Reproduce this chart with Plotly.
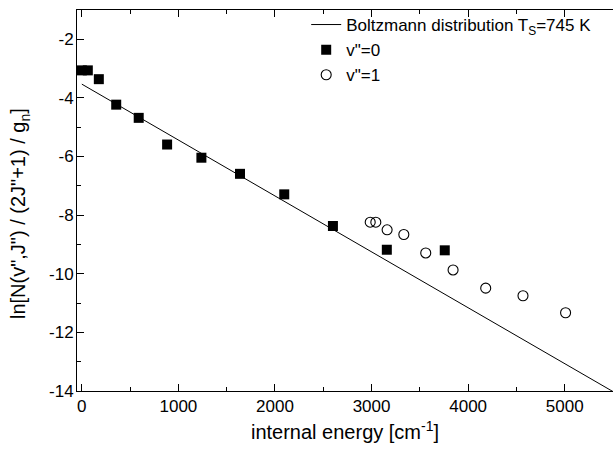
import plotly.graph_objects as go

# Boltzmann fit line (endpoints)
fit_energy = [0, 5500]
fit_ln = [-3.53, -14.02]

# v''=0 (filled squares)
v0_energy = [0, 62, 176, 356, 589, 883, 1238, 1638, 2096, 2600, 3158, 3758]
v0_ln = [-3.06, -3.06, -3.36, -4.23, -4.68, -5.59, -6.04, -6.59, -7.29, -8.37, -9.18, -9.20]

# v''=1 (open circles)
v1_energy = [2986, 3044, 3161, 3334, 3561, 3844, 4182, 4568, 5009]
v1_ln = [-8.24, -8.24, -8.50, -8.66, -9.29, -9.87, -10.49, -10.75, -11.33]

x_ticks = [0, 1000, 2000, 3000, 4000, 5000]
x_tick_labels = ["0", "1000", "2000", "3000", "4000", "5000"]
y_ticks = [-14, -12, -10, -8, -6, -4, -2]
y_tick_labels = ["-14", "-12", "-10", "-8", "-6", "-4", "-2"]

FONT = "Arial, Liberation Sans, sans-serif"

fig = go.Figure()
fig.add_trace(go.Scatter(
    x=fit_energy, y=fit_ln, mode="lines",
    line=dict(color="black", width=1),
    name="Boltzmann distribution T<sub>S</sub>=745 K",
))
fig.add_trace(go.Scatter(
    x=v0_energy, y=v0_ln, mode="markers",
    marker=dict(symbol="square", size=10, color="black", line=dict(width=0)),
    name='v"=0', cliponaxis=False,
))
fig.add_trace(go.Scatter(
    x=v1_energy, y=v1_ln, mode="markers",
    marker=dict(symbol="circle-open", size=10, color="black", line=dict(width=1.1, color="black")),
    name='v"=1', cliponaxis=False,
))

axis_common = dict(
    showline=True, linecolor="black", linewidth=1,
    ticks="inside", ticklen=7, tickwidth=1, tickcolor="black",
    showgrid=False, zeroline=False, automargin=False,
    tickfont=dict(family=FONT, size=17, color="black"),
)

fig.update_xaxes(
    range=[-50, 5500], tickvals=x_ticks, ticktext=x_tick_labels,
    ticklabelstandoff=0, mirror="ticks",
    minor=dict(ticks="inside", ticklen=4, tickcolor="black", dtick=500, tick0=0),
    title=dict(text="internal energy [cm<sup>-1</sup>]", font=dict(family=FONT, size=20, color="black"), standoff=9),
    **axis_common,
)
fig.update_yaxes(
    range=[-14, -1], tickvals=y_ticks, ticktext=y_tick_labels,
    ticklabelstandoff=-1, mirror=False,
    minor=dict(ticks="inside", ticklen=4, tickcolor="black", dtick=1, tick0=0),
    **axis_common,
)

fig.add_annotation(
    text="ln[N(v\",J\") / (2J\"+1) / g<sub>n</sub>]",
    xref="paper", yref="paper", x=-0.106, y=0.465,
    xanchor="center", yanchor="middle", textangle=-90, showarrow=False,
    font=dict(family=FONT, size=20, color="black"),
)

fig.update_layout(
    width=613, height=450,
    margin=dict(l=77, r=0, t=10, b=59, autoexpand=False),
    plot_bgcolor="white", paper_bgcolor="white",
    showlegend=True,
    legend=dict(
        x=0.4276, y=1.0079, xanchor="left", yanchor="top",
        bgcolor="rgba(0,0,0,0)", borderwidth=0,
        font=dict(family=FONT, size=17, color="black"),
        tracegroupgap=0,
    ),
)

fig.write_html(
    "out.html",
    config={"displayModeBar": False},
    post_script="document.body.style.margin='0';document.body.style.overflow='hidden';",
)
